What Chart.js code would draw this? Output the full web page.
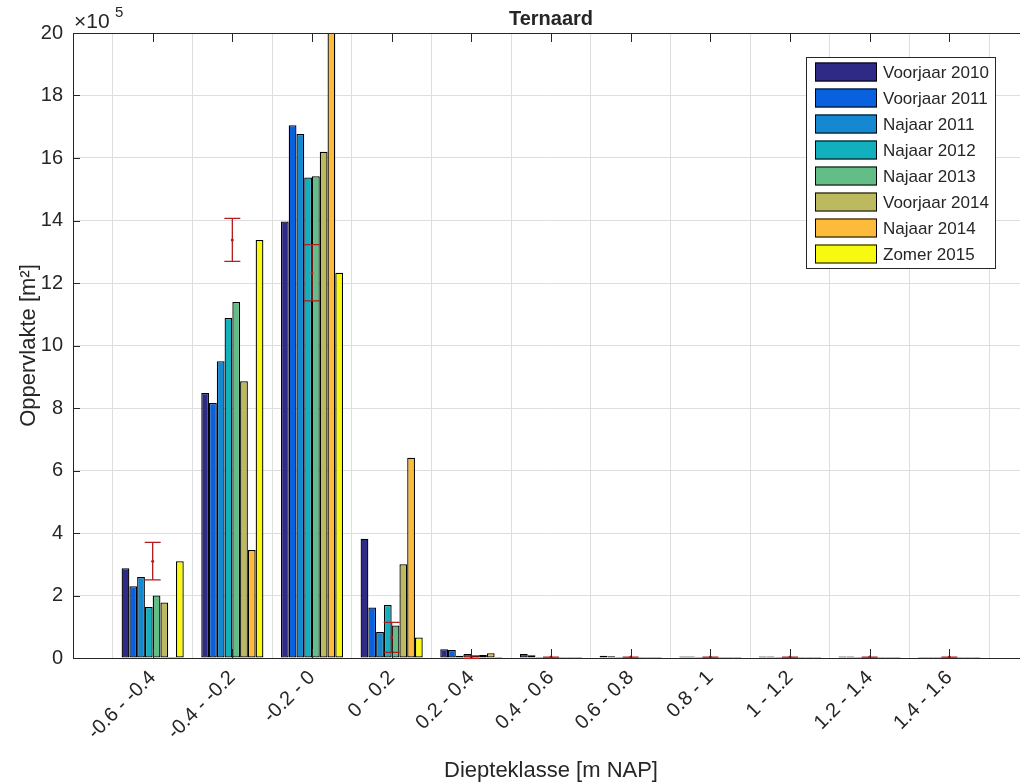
<!DOCTYPE html>
<html>
<head>
<meta charset="utf-8">
<title>Ternaard</title>
<script src="https://cdn.jsdelivr.net/npm/chart.js@4"></script>
<style>
  html, body { margin: 0; padding: 0; background: #fff; overflow: hidden; }
  #wrap { width: 1032px; height: 784px; }
</style>
</head>
<body>
<div id="wrap"><canvas id="myChart" width="1032" height="784"></canvas></div>
<script>
// depth classes (m NAP)
const categories = ['-0.6 - -0.4', '-0.4 - -0.2', '-0.2 - 0', '0 - 0.2', '0.2 - 0.4', '0.4 - 0.6',
                    '0.6 - 0.8', '0.8 - 1', '1 - 1.2', '1.2 - 1.4', '1.4 - 1.6'];

// surface per survey, in 10^5 m2
const voorjaar2010 = [2.87, 8.48, 13.97, 3.82, 0.28, 0.13, 0.07, 0.05, 0.05, 0.05, 0.03];
const voorjaar2011 = [2.30, 8.16, 17.05, 1.62, 0.26, 0.09, 0.06, 0.05, 0.05, 0.05, 0.03];
const najaar2011   = [2.59, 9.50, 16.77, 0.83, 0.07, 0.03, 0.03, 0.03, 0.03, 0.03, 0.03];
const najaar2012   = [1.63, 10.88, 15.38, 1.70, 0.13, 0.03, 0.03, 0.03, 0.03, 0.03, 0.03];
const najaar2013   = [2.00, 11.39, 15.42, 1.04, 0.07, 0.03, 0.03, 0.03, 0.03, 0.03, 0.03];
const voorjaar2014 = [1.78, 8.86, 16.20, 3.00, 0.10, 0.03, 0.03, 0.03, 0.03, 0.03, 0.03];
const najaar2014   = [0.03, 3.46, 20.00, 6.41, 0.15, 0.03, 0.03, 0.03, 0.03, 0.03, 0.03];
const zomer2015    = [3.10, 13.38, 12.33, 0.66, 0.03, 0.03, 0.03, 0.03, 0.03, 0.03, 0.03];

// uncertainty of the zomer 2015 survey (+/-), in 10^5 m2
const zomer2015Err = [0.60, 0.69, 0.90, 0.48, 0.04, 0, 0, 0, 0, 0, 0];

const seriesNames = ['Voorjaar 2010', 'Voorjaar 2011', 'Najaar 2011', 'Najaar 2012',
                     'Najaar 2013', 'Voorjaar 2014', 'Najaar 2014', 'Zomer 2015'];
const seriesValues = [voorjaar2010, voorjaar2011, najaar2011, najaar2012,
                      najaar2013, voorjaar2014, najaar2014, zomer2015];
const seriesColors = ['#2e2a86', '#0862e0', '#1588d2', '#12afbf',
                      '#62bd87', '#bcb95f', '#fcbb3b', '#f8f911'];

const yMin = 0, yMax = 20, yStep = 2;

// an empty slot on each side gives one class width of room at both ends
const labels = [''].concat(categories, ['']);
const pad = arr => [null].concat(arr, [null]);

const txt = '#262626';
const fam = '"Liberation Sans", Arial, sans-serif';
Chart.defaults.font.family = fam;
Chart.defaults.color = txt;

// legend, error bars, inward ticks and the x10^5 note
const extras = {
    id: 'extras',
    afterDatasetsDraw(chart) {
        const c = chart.ctx, a = chart.chartArea;
        const xs = chart.scales.x, ys = chart.scales.y;

        // error bars on zomer 2015, centred on each class
        c.save();
        c.beginPath();
        c.rect(a.left, a.top - 1, a.right - a.left, a.bottom - a.top + 2);
        c.clip();
        c.strokeStyle = '#b01e1e';
        c.fillStyle = '#b01e1e';
        c.lineWidth = 1.3;
        zomer2015.forEach((v, i) => {
            const x = xs.getPixelForValue(i + 1);
            const yT = ys.getPixelForValue(v + zomer2015Err[i]);
            const yB = ys.getPixelForValue(v - zomer2015Err[i]);
            const y = ys.getPixelForValue(v);
            c.beginPath();
            c.moveTo(x, yT); c.lineTo(x, yB);
            c.moveTo(x - 8, yT); c.lineTo(x + 8, yT);
            c.moveTo(x - 8, yB); c.lineTo(x + 8, yB);
            c.stroke();
            c.beginPath();
            c.arc(x, y, 1.5, 0, Math.PI * 2);
            c.fill();
        });
        c.restore();

        // box and ticks pointing inwards
        c.save();
        c.strokeStyle = txt;
        c.lineWidth = 1;
        c.beginPath();
        c.moveTo(a.left, a.top + 0.5); c.lineTo(a.right, a.top + 0.5);
        for (let v = yMin; v <= yMax; v += yStep) {
            const y = Math.round(ys.getPixelForValue(v)) + 0.5;
            c.moveTo(a.left, y); c.lineTo(a.left + 7, y);
        }
        categories.forEach((_, i) => {
            const x = Math.round(xs.getPixelForValue(i + 1)) + 0.5;
            c.moveTo(x, a.bottom); c.lineTo(x, a.bottom - 9);
            c.moveTo(x, a.top); c.lineTo(x, a.top + 9);
        });
        c.stroke();

        // multiplier above the y axis
        c.fillStyle = txt;
        c.textBaseline = 'alphabetic';
        c.textAlign = 'left';
        c.font = '21px ' + fam;
        c.fillText('\u00d710', a.left + 1, a.top - 5);
        c.font = '15px ' + fam;
        c.fillText('5', a.left + 42, a.top - 16);

        // title
        c.font = 'bold 20px ' + fam;
        c.textAlign = 'center';
        c.fillText('Ternaard', (a.left + a.right) / 2, a.top - 8);

        // legend box, top right
        const lx = 806, ly = 57, lw = 189, lh = 211;
        c.fillStyle = '#fff';
        c.fillRect(lx, ly, lw, lh);
        c.strokeStyle = txt;
        c.strokeRect(lx + 0.5, ly + 0.5, lw, lh);
        c.font = '17px ' + fam;
        c.textAlign = 'left';
        c.textBaseline = 'middle';
        chart.data.datasets.forEach((ds, i) => {
            const cy = 72 + i * 26;
            c.fillStyle = ds.backgroundColor;
            c.fillRect(815, cy - 9.5, 62, 19);
            c.strokeStyle = '#000';
            c.strokeRect(815.5, cy - 9, 61, 18);
            c.fillStyle = txt;
            c.fillText(ds.label, 883, cy + 1);
        });
        c.restore();
    }
};

const ctx = document.getElementById('myChart').getContext('2d');

const myChart = new Chart(ctx, {
    type: 'bar',
    data: {
        labels: labels,
        datasets: seriesNames.map((name, i) => ({
            label: name,
            data: pad(seriesValues[i]),
            backgroundColor: seriesColors[i],
            borderColor: '#000',
            borderWidth: 1.3,
            borderSkipped: false,
            barPercentage: 1.0,
            categoryPercentage: 0.78
        }))
    },
    options: {
        responsive: false,
        animation: false,
        layout: { padding: { top: 33, right: 3, left: 0, bottom: 0 } },
        plugins: {
            legend: { display: false },
            title: { display: false },
            tooltip: { enabled: false }
        },
        scales: {
            x: {
                offset: false,
                grid: { color: '#dedede', drawTicks: false },
                border: { color: txt },
                ticks: {
                    autoSkip: false,
                    maxRotation: 45,
                    minRotation: 45,
                    padding: 8,
                    font: { size: 20 }
                },
                title: {
                    display: true,
                    text: 'Diepteklasse [m NAP]',
                    font: { size: 22 },
                    padding: { top: 0, bottom: 0 }
                },
                afterFit: s => {
                    s.height = 126;
                    s.paddingLeft = 0;
                    s.paddingRight = 0;
                }
            },
            y: {
                min: yMin,
                max: yMax,
                grid: { color: '#dedede', drawTicks: false },
                border: { color: txt },
                ticks: {
                    stepSize: yStep,
                    padding: 10,
                    font: { size: 20 }
                },
                title: {
                    display: true,
                    text: 'Oppervlakte [m\u00b2]',
                    font: { size: 22 },
                    padding: { top: 16, bottom: 0 }
                },
                afterFit: s => {
                    s.width = 73;
                    s.paddingTop = 0;
                    s.paddingBottom = 0;
                }
            }
        }
    },
    plugins: [extras]
});
</script>
</body>
</html>
